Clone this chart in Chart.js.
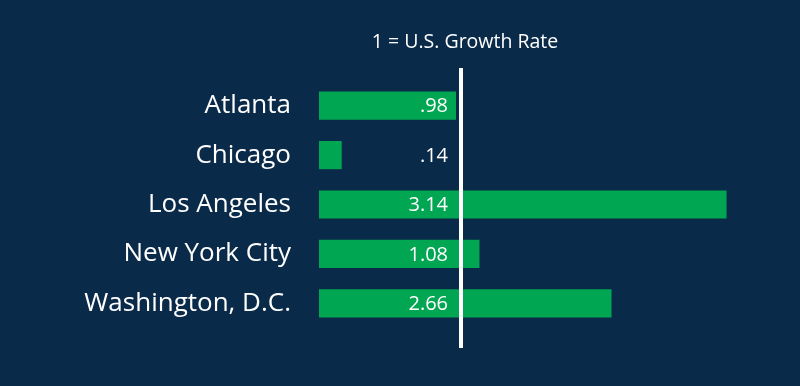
<!DOCTYPE html>
<html>
<head>
<meta charset="utf-8">
<script src="https://cdn.jsdelivr.net/npm/chart.js@4"></script>
<style>
  html, body { margin: 0; padding: 0; background: #0a2a49; }
  #wrap { width: 800px; height: 386px; }
</style>
</head>
<body>
<div id="wrap"><canvas id="growthChart"></canvas></div>
<script>
// Städer och tillväxt (1 = USA:s tillväxttakt)
const cities = ['Atlanta', 'Chicago', 'Los Angeles', 'New York City', 'Washington, D.C.'];
// Etiketterna som står i staplarna
const growthLabels = ['.98', '.14', '3.14', '1.08', '2.66'];
// Staplarnas längd som de är ritade i bilden (samma skala som linjen vid 1)
const barLengths = [0.965, 0.16, 2.87, 1.13, 2.06];
const usRate = 1;
const titleText = '1 = U.S. Growth Rate';

const FONT = "'Open Sans', 'Noto Sans', sans-serif";

// Ritar den vita referenslinjen, rubriken och värdena i staplarna
const overlayPlugin = {
    id: 'overlay',
    afterDatasetsDraw(chart) {
        const { ctx, chartArea, scales } = chart;
        const xLine = scales.x.getPixelForValue(usRate);

        ctx.save();
        ctx.strokeStyle = '#ffffff';
        ctx.lineWidth = 4;
        ctx.beginPath();
        ctx.moveTo(xLine, chartArea.top - 13);
        ctx.lineTo(xLine, chartArea.bottom + 20);
        ctx.stroke();

        ctx.fillStyle = '#ffffff';
        ctx.font = '19.5px ' + FONT;
        ctx.textAlign = 'center';
        ctx.textBaseline = 'middle';
        ctx.fillText(titleText, xLine + 4, chartArea.top - 39);

        ctx.font = '20px ' + FONT;
        ctx.textAlign = 'right';
        const meta = chart.getDatasetMeta(0);
        meta.data.forEach((bar, i) => {
            ctx.fillText(growthLabels[i], xLine - 13, bar.y + 1);
        });
        ctx.restore();
    }
};

new Chart(document.getElementById('growthChart'), {
    type: 'bar',
    data: {
        labels: cities,
        datasets: [{
            data: barLengths,
            backgroundColor: '#00a651',
            borderWidth: 0,
            barPercentage: 1.0,
            categoryPercentage: 0.57
        }]
    },
    options: {
        indexAxis: 'y',
        responsive: true,
        maintainAspectRatio: false,
        animation: false,
        layout: { padding: { top: 81, bottom: 58, left: 0, right: 55 } },
        plugins: {
            legend: { display: false },
            tooltip: { enabled: false }
        },
        scales: {
            x: {
                min: 0,
                max: 3,
                display: false
            },
            y: {
                grid: { display: false, drawTicks: false },
                border: { display: false },
                ticks: {
                    color: '#ffffff',
                    padding: 28,
                    font: { family: FONT, size: 26 }
                },
                afterFit(scale) { scale.width = 319; }
            }
        }
    },
    plugins: [overlayPlugin]
});
</script>
</body>
</html>
